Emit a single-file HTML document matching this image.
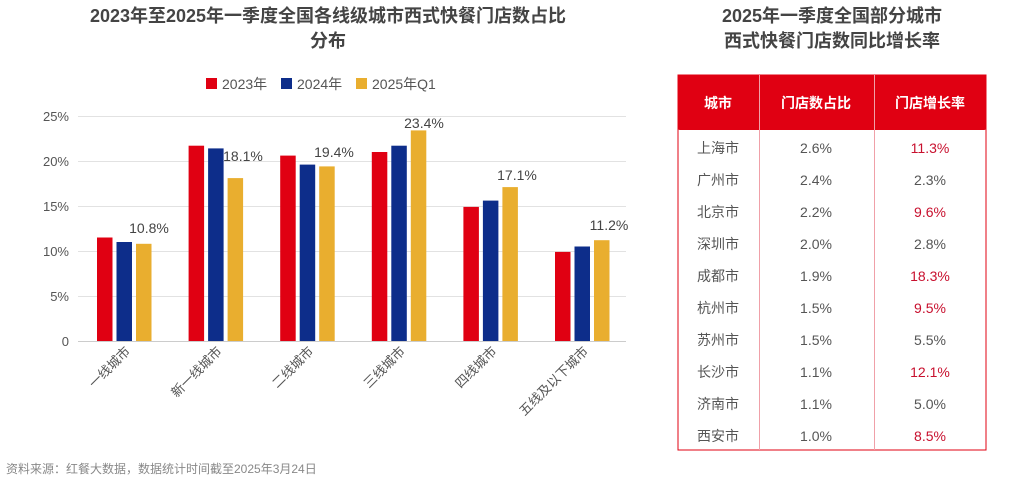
<!DOCTYPE html>
<html><head><meta charset="utf-8"><style>
body{margin:0;width:1012px;height:479px;background:#fff;overflow:hidden;font-family:"Liberation Sans","Noto Sans CJK SC",sans-serif;}
</style></head><body>
<svg width="1012" height="479" xmlns="http://www.w3.org/2000/svg" font-family="Liberation Sans, Noto Sans CJK SC, sans-serif">
<text x="328" y="22" font-size="18" font-weight="bold" fill="#444" text-anchor="middle">2023年至2025年一季度全国各线级城市西式快餐门店数占比</text>
<text x="328" y="47" font-size="18" font-weight="bold" fill="#444" text-anchor="middle">分布</text>
<text x="832" y="22" font-size="18" font-weight="bold" fill="#444" text-anchor="middle">2025年一季度全国部分城市</text>
<text x="832" y="47" font-size="18" font-weight="bold" fill="#444" text-anchor="middle">西式快餐门店数同比增长率</text>
<g font-size="14" fill="#555">
<rect x="206" y="78" width="11" height="11" fill="#e00012"/><text x="222" y="89">2023年</text>
<rect x="281" y="78" width="11" height="11" fill="#0d2d8a"/><text x="297" y="89">2024年</text>
<rect x="356" y="78" width="11" height="11" fill="#e9ae2f"/><text x="372" y="89">2025年Q1</text>
</g>
<g stroke="#e2e2e2" stroke-width="1">
<line x1="78" x2="626" y1="116.5" y2="116.5"/><line x1="78" x2="626" y1="161.5" y2="161.5"/><line x1="78" x2="626" y1="206.5" y2="206.5"/><line x1="78" x2="626" y1="251.5" y2="251.5"/><line x1="78" x2="626" y1="296.5" y2="296.5"/><line x1="78" x2="626" y1="341.5" y2="341.5" stroke="#ccc"/>
</g>
<g font-size="13" fill="#555" text-anchor="end">
<text x="69" y="121">25%</text><text x="69" y="166">20%</text><text x="69" y="211">15%</text><text x="69" y="256">10%</text><text x="69" y="301">5%</text><text x="69" y="346">0</text>
</g>
<g>
<rect x="97" y="237.5" width="15.5" height="103.5" fill="#e00012"/><rect x="116.5" y="242" width="15.5" height="99" fill="#0d2d8a"/><rect x="136" y="243.8" width="15.5" height="97.2" fill="#e9ae2f"/>
<rect x="188.6" y="145.7" width="15.5" height="195.3" fill="#e00012"/><rect x="208.1" y="148.4" width="15.5" height="192.6" fill="#0d2d8a"/><rect x="227.6" y="178.1" width="15.5" height="162.9" fill="#e9ae2f"/>
<rect x="280.2" y="155.6" width="15.5" height="185.4" fill="#e00012"/><rect x="299.7" y="164.6" width="15.5" height="176.4" fill="#0d2d8a"/><rect x="319.2" y="166.4" width="15.5" height="174.6" fill="#e9ae2f"/>
<rect x="371.8" y="152" width="15.5" height="189" fill="#e00012"/><rect x="391.3" y="145.7" width="15.5" height="195.3" fill="#0d2d8a"/><rect x="410.8" y="130.4" width="15.5" height="210.6" fill="#e9ae2f"/>
<rect x="463.4" y="206.9" width="15.5" height="134.1" fill="#e00012"/><rect x="482.9" y="200.6" width="15.5" height="140.4" fill="#0d2d8a"/><rect x="502.4" y="187.1" width="15.5" height="153.9" fill="#e9ae2f"/>
<rect x="555" y="251.9" width="15.5" height="89.1" fill="#e00012"/><rect x="574.5" y="246.5" width="15.5" height="94.5" fill="#0d2d8a"/><rect x="594" y="240.2" width="15.5" height="100.8" fill="#e9ae2f"/>
</g>
<g font-size="14" fill="#444" text-anchor="middle">
<text x="149" y="233">10.8%</text><text x="243" y="161">18.1%</text><text x="334" y="157">19.4%</text><text x="424" y="128">23.4%</text><text x="517" y="180">17.1%</text><text x="609" y="230">11.2%</text>
</g>
<g font-size="13" fill="#555" text-anchor="end">
<text transform="translate(131,352) rotate(-45)">一线城市</text>
<text transform="translate(222.6,352) rotate(-45)">新一线城市</text>
<text transform="translate(314.2,352) rotate(-45)">二线城市</text>
<text transform="translate(405.8,352) rotate(-45)">三线城市</text>
<text transform="translate(497.4,352) rotate(-45)">四线城市</text>
<text transform="translate(589,352) rotate(-45)">五线及以下城市</text>
</g>
<text x="6" y="473" font-size="12" fill="#888">资料来源：红餐大数据，数据统计时间截至2025年3月24日</text>
<rect x="678" y="75" width="308" height="375" fill="#fff" stroke="#e00012" stroke-width="1"/>
<rect x="678" y="75" width="308" height="55" fill="#e00012" rx="2"/>
<g stroke="#f0a0a8" stroke-width="1"><line x1="759.5" x2="759.5" y1="75" y2="450"/><line x1="874.5" x2="874.5" y1="75" y2="450"/></g>
<g font-size="14" font-weight="bold" fill="#fff" text-anchor="middle">
<text x="718" y="108">城市</text><text x="816" y="108">门店数占比</text><text x="930" y="108">门店增长率</text></g>
<g font-size="14" fill="#555" text-anchor="middle">
<text x="718" y="153">上海市</text><text x="816" y="153">2.6%</text><text x="930" y="153" fill="#c8102e">11.3%</text>
<text x="718" y="185">广州市</text><text x="816" y="185">2.4%</text><text x="930" y="185">2.3%</text>
<text x="718" y="217">北京市</text><text x="816" y="217">2.2%</text><text x="930" y="217" fill="#c8102e">9.6%</text>
<text x="718" y="249">深圳市</text><text x="816" y="249">2.0%</text><text x="930" y="249">2.8%</text>
<text x="718" y="281">成都市</text><text x="816" y="281">1.9%</text><text x="930" y="281" fill="#c8102e">18.3%</text>
<text x="718" y="313">杭州市</text><text x="816" y="313">1.5%</text><text x="930" y="313" fill="#c8102e">9.5%</text>
<text x="718" y="345">苏州市</text><text x="816" y="345">1.5%</text><text x="930" y="345">5.5%</text>
<text x="718" y="377">长沙市</text><text x="816" y="377">1.1%</text><text x="930" y="377" fill="#c8102e">12.1%</text>
<text x="718" y="409">济南市</text><text x="816" y="409">1.1%</text><text x="930" y="409">5.0%</text>
<text x="718" y="441">西安市</text><text x="816" y="441">1.0%</text><text x="930" y="441" fill="#c8102e">8.5%</text>
</g>
</svg>
</body></html>
